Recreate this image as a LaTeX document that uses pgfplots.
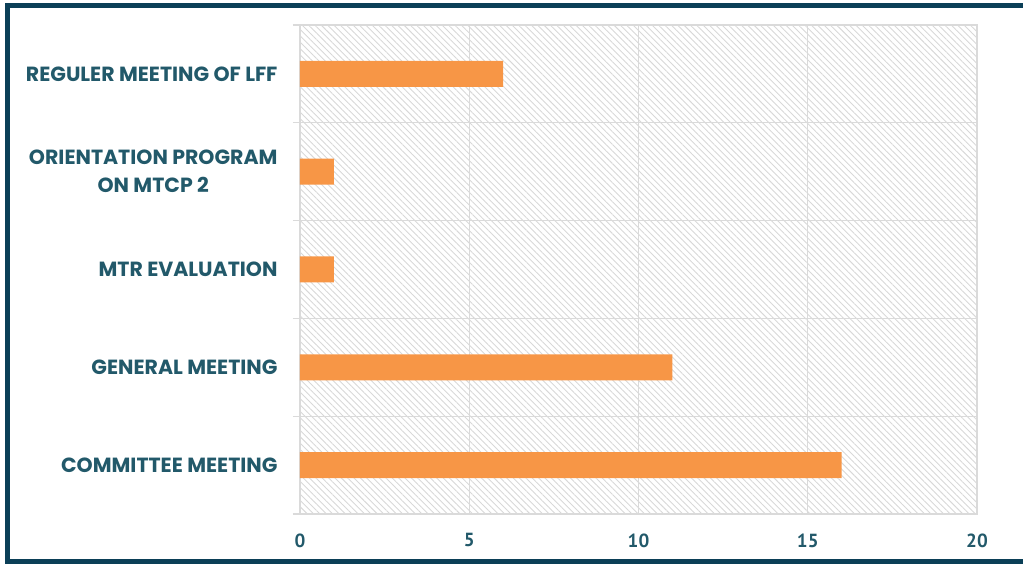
\documentclass[border=0pt]{standalone}
\usepackage{pgfplots}
\pgfplotsset{compat=1.18}
\usepackage{fontspec}
\setmainfont{Poppins}
\newfontfamily\numfont{PT Sans}
\usetikzlibrary{patterns.meta}
\definecolor{frame}{HTML}{0B3F57}
\definecolor{txt}{HTML}{22596A}
\definecolor{barc}{HTML}{F79646}
\definecolor{gridc}{HTML}{DADADA}
\definecolor{hatch}{HTML}{D8D8D8}
\begin{document}
\begin{tikzpicture}
\path[use as bounding box] (0pt,0pt) rectangle (1023pt,563pt);
\draw[frame, line width=5pt] (1030pt,557pt) -- (7.5pt,557pt) -- (7.5pt,1.5pt) -- (1030pt,1.5pt);
\begin{axis}[
  at={(300pt,49pt)}, anchor=south west,
  scale only axis, width=677pt, height=489pt,
  xmin=0, xmax=20, ymin=0.5, ymax=5.5,
  xbar, bar width=26pt,
  axis line style={gridc, line width=1.5pt},
  axis background/.style={pattern={Lines[angle=-45,distance=4.5pt,line width=0.9pt]}, pattern color=hatch},
  xtick={0,5,10,15,20},
  xticklabels={0,5,10,15,20},
  xmajorgrids,
  major grid style={gridc, line width=1.3pt},
  xtick style={draw=none},
  xticklabel style={font=\numfont\bfseries\fontsize{19}{20}\selectfont, text=txt, yshift=-9pt},
  ytick={1,2,3,4,5},
  yticklabels={COMMITTEE MEETING, GENERAL MEETING, MTR EVALUATION, {ORIENTATION PROGRAM\\ON MTCP 2}, REGULER MEETING OF LFF},
  ytick style={draw=none},
  yticklabel style={align=center, font=\bfseries\fontsize{20.5}{28}\selectfont, text=txt, xshift=-12pt},
  major tick length=7pt, tick align=outside, tick pos=left,
  extra y ticks={0.5,1.5,2.5,3.5,4.5,5.5},
  extra y tick labels={},
  extra y tick style={ymajorgrids=true, ytick style={draw=gridc, line width=1.3pt}},
]
\addplot[fill=barc, draw=none] coordinates {(16,1) (11,2) (1,3) (1,4) (6,5)};
\end{axis}
\end{tikzpicture}
\end{document}
